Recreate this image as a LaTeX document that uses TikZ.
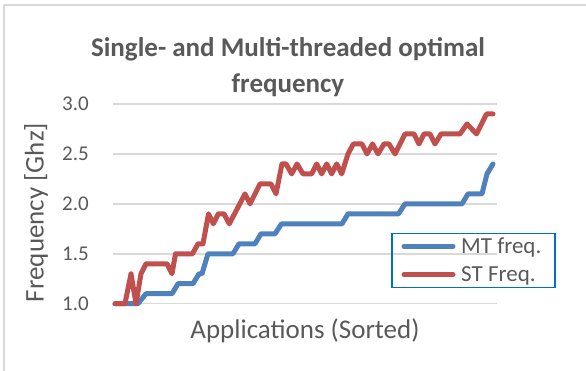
\documentclass[tikz,border=0pt]{standalone}
\usepackage{fontspec}
\setmainfont{Carlito}
\usepackage{tikz}
\usetikzlibrary{positioning}

\definecolor{textgray}{HTML}{595959}
\definecolor{gridgray}{HTML}{D9D9D9}
\definecolor{mtblue}{HTML}{4F81BD}
\definecolor{stred}{HTML}{C0504D}
\definecolor{legblue}{HTML}{0070C0}

\begin{document}
\begin{tikzpicture}[x=1pt, y=-1pt]
	\tikzstyle{grid}=[gridgray, line width=1.5pt];
	\tikzstyle{series}=[line width=5pt, line cap=round, line join=round];
	\tikzstyle{tick}=[anchor=east, inner sep=0pt, text=textgray,
	                        font=\fontsize{21}{25}\selectfont];
	\tikzstyle{axis}=[inner sep=0pt, text=textgray, font=\fontsize{27}{32}\selectfont];
	\tikzstyle{entry}=[anchor=base west, inner sep=0pt, text=textgray,
	                        font=\fontsize{23}{28}\selectfont];
	\useasboundingbox (0,0) rectangle (586,370);
	\draw[grid] (4,5) rectangle (640,420);
	\node[axis, anchor=base, align=center, font=\bfseries\fontsize{27}{36}\selectfont]
	   (title) at (288,92) {Single- and Multi-threaded optimal\\frequency};
	\node[axis, anchor=base] (xlabel) at (305,338) {Applications (Sorted)};
	\node[axis, anchor=base, rotate=90] (ylabel) at (43.5,212.5) {Frequency [Ghz]};
	\begin{scope}[shift={(0pt,-403.55pt)}, y=99.85pt]
	\foreach \v [count=\i] in {1.0, 1.5, 2.0, 2.5, 3.0}
	{\draw[grid] (113,\v) -- (497,\v);
	 \node[tick] (tick\i) at (89,\v) {\v};}
	\draw[series, mtblue] plot coordinates {
	(115,1.0) (138,1.0) (146,1.1) (172,1.1) (178,1.2) (193,1.2) (199,1.3)
	(202,1.3) (208,1.5) (233,1.5) (239,1.6) (255,1.6) (261,1.7) (275,1.7)
	(281.5,1.8) (342,1.8) (348,1.9) (398.5,1.9) (405,2.0) (462,2.0) (468,2.1)
	(482,2.1) (487,2.3) (493,2.4)};
	\draw[series, stred] plot coordinates {
	(115,1.0) (125,1.0) (131,1.3) (136,1.0) (141,1.3) (146,1.4) (167,1.4)
	(172,1.3) (175.5,1.5) (192.5,1.5) (198,1.6) (203,1.6) (208.5,1.9)
	(213.3,1.8) (218.3,1.9) (224,1.9) (229.3,1.8) (245,2.1) (250,2.0)
	(260,2.2) (271,2.2) (276,2.1) (282,2.4) (286,2.4) (291.7,2.3) (297,2.4)
	(303,2.3) (311.7,2.3) (316.7,2.4) (321.7,2.3) (326.7,2.4) (331.7,2.3)
	(336.7,2.4) (341.7,2.3) (348,2.5) (353.3,2.6) (362,2.6) (367,2.5)
	(372.5,2.6) (378,2.5) (384,2.6) (389,2.6) (395,2.5) (405,2.7) (414,2.7)
	(419,2.6) (424,2.7) (430,2.7) (435,2.6) (441,2.7) (460,2.7) (467,2.8)
	(476.5,2.7) (486.5,2.9) (493,2.9)};
	\end{scope}
	\node[draw=legblue, line width=1.8pt, inner sep=0pt, minimum width=163pt,
	      minimum height=54pt] (legend) at (473.5,260.5) {};
	\coordinate (mtA) at (404,246.3);
	\coordinate (mtB) at (453,246.3);
	\coordinate (stA) at (404,274.7);
	\coordinate (stB) at (453,274.7);
	\draw[series, mtblue] (mtA) -- (mtB);
	\draw[series, stred] (stA) -- (stB);
	\node[entry] (mt) at (461,253) {MT freq.};
	\node[entry] (st) at (461,281.3) {ST Freq.};
\end{tikzpicture}
\end{document}
